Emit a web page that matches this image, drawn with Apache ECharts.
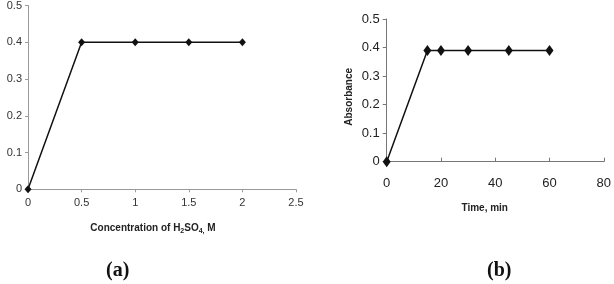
<!DOCTYPE html>
<html><head><meta charset="utf-8">
<script src="https://cdn.jsdelivr.net/npm/echarts@6/dist/echarts.min.js"></script>
<style>html,body{margin:0;padding:0;background:#fff}#c{width:614px;height:284px}</style>
</head><body><div id="c"></div>
<script>
// Panel (a): absorbance vs H2SO4 concentration
const concM = [0, 0.5, 1, 1.5, 2];
const absA = [0, 0.4, 0.4, 0.4, 0.4];
// Panel (b): absorbance vs time
const timeMin = [0, 15, 20, 30, 45, 60];
const absB = [0, 0.39, 0.39, 0.39, 0.39, 0.39];

const chart = echarts.init(document.getElementById('c'));
const axisGray = '#9a9a9a';
chart.setOption({
  animation: false,
  backgroundColor: '#fff',
  grid: [
    {left: 28, top: 3.8, width: 268, height: 185.5},
    {left: 386.7, top: 19, width: 224, height: 142.7}
  ],
  xAxis: [
    {gridIndex: 0, type: 'value', min: 0, max: 2.5, interval: 0.5,
     splitLine: {show: false},
     axisLine: {lineStyle: {color: axisGray, width: 1}},
     axisTick: {show: true, length: 3, lineStyle: {color: axisGray}},
     axisLabel: {color: '#333', fontSize: 11, fontFamily: 'Liberation Sans', margin: 8},
     name: '{t|Concentration of H}{s|2}{t|SO}{s|4,}{t| M}', nameLocation: 'middle', nameGap: 32,
     nameTextStyle: {padding: [0, 18, 0, 0], rich: {
       t: {fontSize: 10, fontWeight: 'bold', fontFamily: 'Liberation Sans', color: '#222'},
       s: {fontSize: 7, fontWeight: 'bold', fontFamily: 'Liberation Sans', color: '#222', verticalAlign: 'bottom', padding: [6, 0, 0, 0]}
     }}
    },
    {gridIndex: 1, type: 'value', min: 0, max: 80, interval: 20,
     splitLine: {show: false},
     axisLine: {lineStyle: {color: '#777', width: 1}},
     axisTick: {show: true, inside: true, length: 4, lineStyle: {color: '#777'}},
     axisLabel: {color: '#222', fontSize: 13, fontFamily: 'Liberation Sans', margin: 15},
     name: 'Time, min', nameLocation: 'middle', nameGap: 42,
     nameTextStyle: {fontSize: 10, fontWeight: 'bold', fontFamily: 'Liberation Sans', color: '#222', padding: [0, 21, 0, 0]}
    }
  ],
  yAxis: [
    {gridIndex: 0, type: 'value', min: 0, max: 0.5, interval: 0.1,
     splitLine: {show: false},
     axisLine: {show: true, lineStyle: {color: axisGray, width: 1}},
     axisTick: {show: true, length: 3, lineStyle: {color: axisGray}},
     axisLabel: {color: '#333', fontSize: 11, fontFamily: 'Liberation Sans', margin: 6}
    },
    {gridIndex: 1, type: 'value', min: 0, max: 0.5, interval: 0.1,
     splitLine: {show: false},
     axisLine: {show: true, lineStyle: {color: '#777', width: 1}},
     axisTick: {show: true, length: 4, lineStyle: {color: '#777'}},
     axisLabel: {color: '#222', fontSize: 13, fontFamily: 'Liberation Sans', margin: 7},
     name: 'Absorbance', nameLocation: 'middle', nameGap: 32, nameRotate: 90,
     nameTextStyle: {fontSize: 10, fontWeight: 'bold', fontFamily: 'Liberation Sans', color: '#222', padding: [0, 13, 0, 0]}
    }
  ],
  series: [
    {type: 'line', xAxisIndex: 0, yAxisIndex: 0, data: concM.map((x, i) => [x, absA[i]]),
     symbol: 'diamond', symbolSize: [7, 8], showSymbol: true,
     lineStyle: {color: '#111', width: 1.5}, itemStyle: {color: '#111'}},
    {type: 'line', xAxisIndex: 1, yAxisIndex: 1, data: timeMin.map((x, i) => [x, absB[i]]),
     symbol: 'diamond', symbolSize: [8, 11], showSymbol: true,
     lineStyle: {color: '#111', width: 1.5}, itemStyle: {color: '#111'}}
  ],
  graphic: [
    {type: 'text', left: 106, top: 261, style: {text: '(a)', font: 'bold 20px "Liberation Serif"', fill: '#111'}},
    {type: 'text', left: 487, top: 261, style: {text: '(b)', font: 'bold 20px "Liberation Serif"', fill: '#111'}}
  ]
});
</script></body></html>
